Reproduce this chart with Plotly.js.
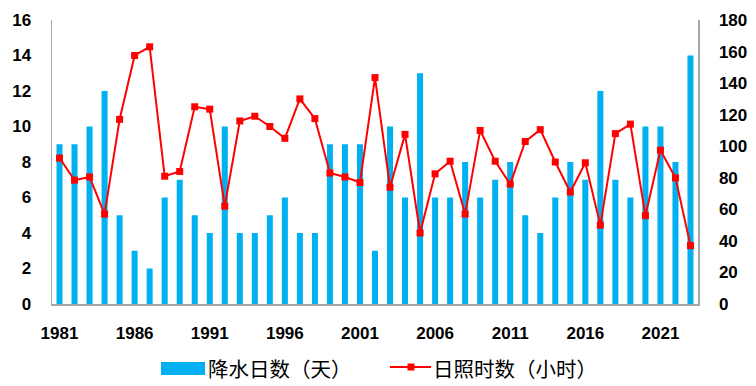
<!DOCTYPE html>
<html>
<head>
<meta charset="utf-8">
<script src="https://cdn.plot.ly/plotly-3.0.1.min.js"></script>
<style>html,body{margin:0;padding:0;background:#fff;}#chart{width:756px;height:386px;}</style>
</head>
<body>
<div id="chart"></div>
<script>
var years = [];
for (var y = 1981; y <= 2023; y++) years.push(y);

var rainDays = [9, 9, 10, 12, 5, 3, 2, 6, 7, 5,
                4, 10, 4, 4, 5, 6, 4, 4, 9, 9,
                9, 3, 10, 6, 13, 6, 6, 8, 6, 7,
                8, 5, 4, 6, 8, 7, 12, 7, 6, 10,
                10, 8, 14];

var sunHours = [92.5, 78.5, 80.5, 57, 117, 157.5, 163, 81, 84, 125,
                123.5, 62, 116, 119, 112.5, 105, 130, 117.5, 83, 80.5,
                77, 143.5, 74, 107.5, 45, 82.5, 90.5, 57, 110, 90.5,
                76, 103, 110.5, 90, 71, 89.5, 50, 108, 114, 56,
                97.5, 80, 37];

var xTicks = [1981, 1986, 1991, 1996, 2001, 2006, 2011, 2016, 2021];
var leftTicks = [0, 2, 4, 6, 8, 10, 12, 14, 16];
var rightTicks = [0, 20, 40, 60, 80, 100, 120, 140, 160, 180];

var rainName = '降水日数（天）';
var sunName = '日照时数（小时）';

var M = {l: 52, r: 58, t: 20, b: 82};
var W = 756, H = 386;
var pw = W - M.l - M.r, ph = H - M.t - M.b;
function px(x) { return (x - M.l) / pw; }
function py(y) { return (H - M.b - y) / ph; }

var tickFont = {family: 'Liberation Sans, Arial, sans-serif', size: 17, color: '#000', weight: 'bold'};
var cjk = 'Noto Sans CJK SC, sans-serif';

var traces = [
  {
    type: 'bar', x: years, y: rainDays, name: rainName,
    marker: {color: '#00B0F0'}, width: 0.4, yaxis: 'y', showlegend: false
  },
  {
    type: 'scatter', mode: 'lines+markers', x: years, y: sunHours, name: sunName,
    line: {color: '#FF0000', width: 2},
    marker: {color: '#FF0000', symbol: 'square', size: 7},
    yaxis: 'y2', showlegend: false
  }
];

var layout = {
  width: W, height: H,
  margin: M,
  paper_bgcolor: '#fff', plot_bgcolor: '#fff',
  showlegend: false,
  xaxis: {
    range: [1980.5, 2023.5], tickvals: xTicks, ticktext: xTicks.map(String),
    showgrid: false, zeroline: false, showline: true, linecolor: '#a6a6a6', linewidth: 1.5,
    ticks: '', tickfont: tickFont, ticklabelstandoff: 13, fixedrange: true
  },
  yaxis: {
    range: [0, 16], tickvals: leftTicks, showgrid: false, zeroline: false,
    showline: true, linecolor: '#a6a6a6', linewidth: 1.5, ticks: '',
    tickfont: tickFont, ticklabelstandoff: 16
  },
  yaxis2: {
    range: [0, 180], tickvals: rightTicks, overlaying: 'y', side: 'right',
    showgrid: false, zeroline: false, showline: true, linecolor: '#a6a6a6', linewidth: 1.5,
    ticks: '', tickfont: tickFont, ticklabelstandoff: 16
  },
  shapes: [
    {type: 'rect', xref: 'paper', yref: 'paper', x0: px(161), x1: px(205), y0: py(375), y1: py(362),
     fillcolor: '#00B0F0', line: {width: 0}},
    {type: 'line', xref: 'paper', yref: 'paper', x0: px(390), x1: px(431), y0: py(367), y1: py(367),
     line: {color: '#FF0000', width: 2}},
    {type: 'rect', xref: 'paper', yref: 'paper', x0: px(407.5), x1: px(414.5), y0: py(370.5), y1: py(363.5),
     fillcolor: '#FF0000', line: {width: 0}}
  ],
  annotations: [
    {xref: 'paper', yref: 'paper', x: px(206), y: py(368), xanchor: 'left', yanchor: 'middle',
     text: rainName, showarrow: false, font: {family: cjk, size: 20.5, color: '#000'}},
    {xref: 'paper', yref: 'paper', x: px(431), y: py(368), xanchor: 'left', yanchor: 'middle',
     text: sunName, showarrow: false, font: {family: cjk, size: 20.5, color: '#000'}}
  ]
};

Plotly.newPlot('chart', traces, layout, {displayModeBar: false, staticPlot: true});
</script>
</body>
</html>
